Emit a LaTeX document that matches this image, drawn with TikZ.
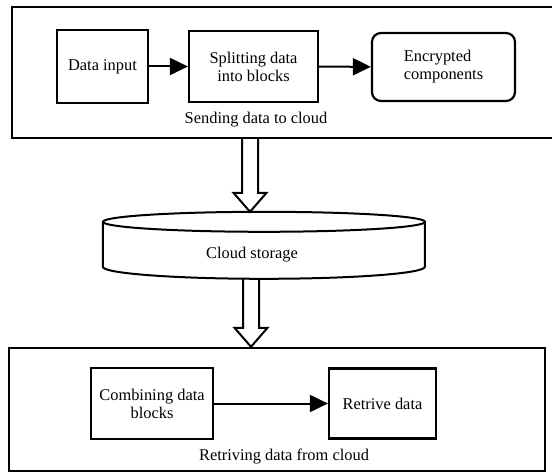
\documentclass[tikz,border=0pt]{standalone}
\usepackage{fontspec}
\setmainfont{Liberation Serif}
\usetikzlibrary{arrows.meta,calc}
\newcommand{\holarrow}[2]{%
  \draw[hollow] let \p1=(#1), \p2=(#2) in
    (\x1-8bp,\y1) -- (\x1-8bp,\y2+19bp) -- (\x1-16.5bp,\y2+19bp) -- (\x2,\y2)
    -- (\x1+16.5bp,\y2+19bp) -- (\x1+8bp,\y2+19bp) -- (\x1+8bp,\y1);}
\tikzset{
  txt/.style={inner sep=0pt, align=center, font=\fontsize{16.4bp}{18bp}\selectfont},
  box/.style={txt, draw, line width=2.2bp},
  frame/.style={draw, line width=2.4bp, inner sep=0pt},
  flow/.style={-{Triangle[length=18bp,width=17bp]}, line width=2bp},
  hollow/.style={draw, line width=2bp, line join=miter},
  cyl/.style={draw, line width=2bp}
}
\begin{document}
\begin{tikzpicture}[x=1bp,y=-1bp]
\useasboundingbox (0,0) rectangle (552,472);
% top frame (its right side lies beyond the picture's edge)
\node[frame, minimum width=560bp, minimum height=131bp] (send) at (292,72.5) {};
\node[txt] (sendlbl) at (256,120) {Sending data to cloud};
\node[box, minimum width=91bp, minimum height=73bp] (datain) at (102.5,66.5) {Data input};
\node[box, minimum width=129bp, minimum height=71bp] (split) at (253.5,66.5) {Splitting data\\into blocks};
\node[box, rounded corners=9bp, minimum width=143bp, minimum height=68bp, align=left] (enc) at (443.5,67) {Encrypted\\components};
\draw[flow] (datain) -- (split);
\draw[flow] (split) -- (enc);
% cloud storage cylinder
\node[inner sep=0pt, minimum width=322bp, minimum height=67bp] (cloud) at (264,245.5) {};
\draw[cyl] (cloud.north) ++(0,10) ellipse [x radius=161, y radius=10];
\draw[cyl] (cloud.north west) ++(0,10) -- ++(0,45) arc[start angle=180, end angle=0, x radius=161, y radius=12] -- ++(0,-45);
\node[txt] (cloudlbl) at (252,255) {Cloud storage};
% bottom frame
\node[frame, minimum width=536bp, minimum height=123bp] (retr) at (277,409.5) {};
\node[txt] (retrlbl) at (284,456) {Retriving data from cloud};
\node[box, minimum width=122bp, minimum height=71bp] (comb) at (152,403.5) {Combining data\\blocks};
\node[box, minimum width=107bp, minimum height=70bp] (getdata) at (382.5,403.5) {Retrive data};
\draw[flow] (comb) -- (getdata);
% hollow arrows
\coordinate (ax1) at (250,0);
\coordinate (ax2) at (251,0);
\holarrow{send.south -| ax1}{cloud.north -| ax1}
\holarrow{cloud.south -| ax2}{retr.north -| ax2}
\end{tikzpicture}
\end{document}
